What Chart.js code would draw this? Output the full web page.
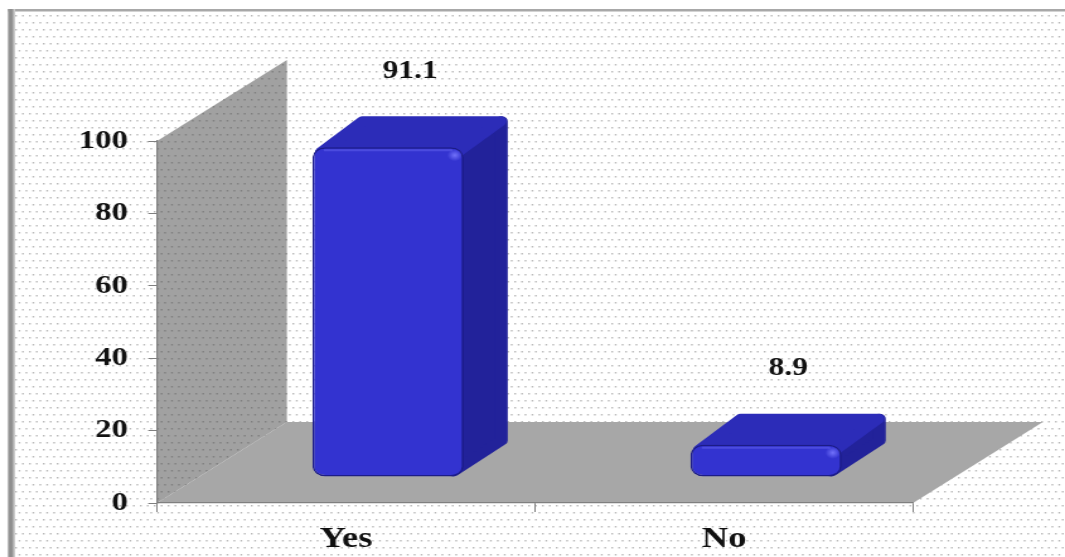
<!DOCTYPE html>
<html>
<head>
<meta charset="utf-8">
<style>
  html, body { margin: 0; padding: 0; background: #ffffff; overflow: hidden; }
  /* the drawing is laid out on an 845px canvas and widened to the 1065px window */
  #wrap { width: 845px; height: 557px; transform: scaleX(1.2604); transform-origin: 0 0; }
  canvas { display: block; }
</style>
<script src="https://cdn.jsdelivr.net/npm/chart.js@4.4.1/dist/chart.umd.min.js"></script>
</head>
<body>
<div id="wrap"><canvas id="chart" width="845" height="557"></canvas></div>
<script>
// ---- data ----
const categories = ['Yes', 'No'];
const percentValues = [91.1, 8.9];
const yTickValues = [0, 20, 40, 60, 80, 100];

// ---- layout & style (canvas units) ----
const CANVAS_W = 845, CANVAS_H = 557;
const AXIS_LEFT = 124.6, AXIS_RIGHT = 724.4;
const PLOT_TOP = 141, PLOT_BOTTOM = 503;
const WALL_DEPTH = { x: 103, y: -81 };     // depth of the side wall / floor
const BAR_SHIFT = { x: 33.3, y: -26 };     // bars stand part-way into the floor
const BAR_DEPTH = { x: 35, y: -31 };       // thickness of each block
const LABEL_GAP = 45;
const ROUND = 5;                           // rounding of the block edges

const AXIS_COLOR = '#808080';
const FRONT_COLOR = '#3333d0';
const TOP_COLOR = '#2c2cb8';
const SIDE_COLOR = '#22229a';
const EDGE_COLOR = '#1c1c86';
const WALL_COLOR = '#a1a1a1';
const FLOOR_COLOR = '#a7a7a7';
const SERIF = '"Liberation Serif", "Times New Roman", serif';

function dotPattern(ctx, color) {
  const t = document.createElement('canvas');
  t.width = 11; t.height = 14;
  const g = t.getContext('2d');
  g.fillStyle = color;
  [[1, 1], [6.5, 1], [3.75, 8], [9.25, 8]].forEach(([x, y]) => g.fillRect(x, y, 1.4, 1.5));
  return ctx.createPattern(t, 'repeat');
}

function poly(ctx, pts) {
  ctx.beginPath();
  ctx.moveTo(pts[0][0], pts[0][1]);
  for (let i = 1; i < pts.length; i++) ctx.lineTo(pts[i][0], pts[i][1]);
  ctx.closePath();
}

function roundedFace(ctx, pts, color) {
  poly(ctx, pts);
  ctx.fillStyle = color;
  ctx.strokeStyle = color;
  ctx.lineWidth = ROUND * 2;
  ctx.lineJoin = 'round';
  ctx.fill();
  ctx.stroke();
}

const scene3d = {
  id: 'scene3d',
  beforeDraw(chart) {
    const ctx = chart.ctx;
    const xs = chart.scales.x, ys = chart.scales.y;
    ctx.save();
    // page background with fine dots
    ctx.fillStyle = '#ffffff';
    ctx.fillRect(0, 0, CANVAS_W, CANVAS_H);
    ctx.fillStyle = dotPattern(ctx, '#bababa');
    ctx.fillRect(11, 11, CANVAS_W, CANVAS_H);
    // frame: top rule and shaded left edge
    ctx.fillStyle = '#a8a8a8';
    ctx.fillRect(6.3, 9, CANVAS_W, 2.5);
    const lg = ctx.createLinearGradient(6.3, 0, 12, 0);
    lg.addColorStop(0, '#9a9a9a');
    lg.addColorStop(0.5, '#8a8a8a');
    lg.addColorStop(1, '#d8d8d8');
    ctx.fillStyle = lg;
    ctx.fillRect(6.3, 9, 5.7, CANVAS_H);

    const x0 = xs.left, x1 = xs.right;
    const yb = ys.getPixelForValue(0), yt = ys.getPixelForValue(100);
    const dx = WALL_DEPTH.x, dy = WALL_DEPTH.y;
    // side wall
    poly(ctx, [[x0, yt], [x0 + dx, yt + dy], [x0 + dx, yb + dy], [x0, yb]]);
    ctx.fillStyle = WALL_COLOR;
    ctx.fill();
    ctx.fillStyle = dotPattern(ctx, 'rgba(105,105,105,0.6)');
    ctx.fill();
    // floor
    poly(ctx, [[x0, yb], [x0 + dx, yb + dy], [x1 + dx, yb + dy], [x1, yb]]);
    ctx.fillStyle = FLOOR_COLOR;
    ctx.fill();
    ctx.restore();
  },
  beforeDatasetsDraw(chart) {
    const ctx = chart.ctx;
    const meta = chart.getDatasetMeta(0);
    ctx.save();
    meta.data.forEach((bar) => {
      const p = bar.getProps(['x', 'y', 'base', 'width'], true);
      const xl = p.x - p.width / 2 + BAR_SHIFT.x;
      const xr = p.x + p.width / 2 + BAR_SHIFT.x;
      const yt = p.y + BAR_SHIFT.y;
      const yb = p.base + BAR_SHIFT.y;
      const dx = BAR_DEPTH.x, dy = BAR_DEPTH.y;
      const r = ROUND;
      // right side face
      roundedFace(ctx, [[xr - 8, yt + r], [xr + dx - r, yt + dy + r], [xr + dx - r, yb + dy - r], [xr - 8, yb - r]], SIDE_COLOR);
      // top face
      roundedFace(ctx, [[xl + r + 2, yt + r], [xl + dx + r, yt + dy + r], [xr + dx - r - 1, yt + dy + r], [xr - r, yt + r]], TOP_COLOR);
    });
    ctx.restore();
  },
  beforeDatasetDraw(chart) {
    chart.ctx.save();
    chart.ctx.translate(BAR_SHIFT.x, BAR_SHIFT.y);
  },
  afterDatasetDraw(chart) {
    chart.ctx.restore();
  },
  afterDatasetsDraw(chart) {
    const ctx = chart.ctx;
    const meta = chart.getDatasetMeta(0);
    const values = chart.data.datasets[0].data;
    ctx.save();
    meta.data.forEach((bar, i) => {
      const p = bar.getProps(['x', 'y', 'width'], true);
      const xl = p.x - p.width / 2 + BAR_SHIFT.x;
      const xr = p.x + p.width / 2 + BAR_SHIFT.x;
      const yt = p.y + BAR_SHIFT.y;
      // light rim along the top edge of the front face
      ctx.strokeStyle = 'rgba(95,95,235,0.55)';
      ctx.lineWidth = 2;
      ctx.beginPath();
      ctx.moveTo(xl + 9, yt + 3);
      ctx.lineTo(xr - 9, yt + 3);
      ctx.stroke();
      // soft glint on the upper-right rim of the front face
      const rg = ctx.createRadialGradient(xr - 7, yt + 8, 0, xr - 7, yt + 8, 6);
      rg.addColorStop(0, 'rgba(120,120,255,0.9)');
      rg.addColorStop(1, 'rgba(120,120,255,0)');
      ctx.fillStyle = rg;
      ctx.fillRect(xr - 14, yt + 1, 14, 14);
      // value label above the block
      ctx.font = 'bold 25px ' + SERIF;
      ctx.fillStyle = '#111111';
      ctx.textAlign = 'center';
      ctx.textBaseline = 'middle';
      ctx.fillText(values[i].toFixed(1), p.x + BAR_SHIFT.x + BAR_DEPTH.x / 2, yt + BAR_DEPTH.y - LABEL_GAP);
    });
    ctx.restore();
  }
};

new Chart(document.getElementById('chart'), {
  type: 'bar',
  data: {
    labels: categories,
    datasets: [{
      data: percentValues,
      backgroundColor: FRONT_COLOR,
      borderColor: EDGE_COLOR,
      borderWidth: 1.5,
      borderRadius: 10,
      borderSkipped: false,
      barPercentage: 0.4,
      categoryPercentage: 1.0,
      clip: false
    }]
  },
  options: {
    responsive: false,
    animation: false,
    devicePixelRatio: 1,
    layout: { padding: { top: PLOT_TOP, right: CANVAS_W - AXIS_RIGHT, left: 0, bottom: 0 } },
    plugins: {
      legend: { display: false },
      tooltip: { enabled: false },
      title: { display: false }
    },
    scales: {
      x: {
        offset: true,
        grid: { display: true, offset: true, drawOnChartArea: false, drawTicks: true, tickLength: 9, color: AXIS_COLOR },
        border: { display: true, color: AXIS_COLOR, width: 1.2 },
        ticks: { font: { family: SERIF, size: 29, weight: 'bold' }, color: '#111111', padding: 10, maxRotation: 0 },
        afterFit(scale) { scale.height = CANVAS_H - PLOT_BOTTOM; }
      },
      y: {
        min: 0,
        max: 100,
        afterBuildTicks(scale) { scale.ticks = yTickValues.map(v => ({ value: v })); },
        grid: { drawOnChartArea: false, drawTicks: true, tickLength: 7, color: AXIS_COLOR },
        border: { display: true, color: AXIS_COLOR, width: 1.2 },
        ticks: { font: { family: SERIF, size: 26, weight: 'bold' }, color: '#111111', padding: 16 },
        afterFit(scale) { scale.width = AXIS_LEFT; }
      }
    }
  },
  plugins: [scene3d]
});
</script>
</body>
</html>
